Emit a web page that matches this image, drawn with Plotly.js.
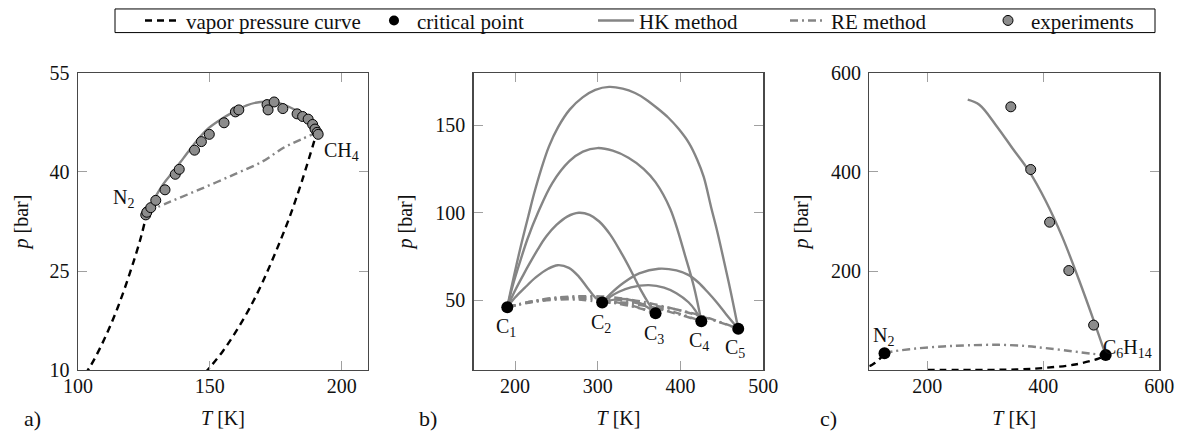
<!DOCTYPE html>
<html>
<head>
<meta charset="utf-8">
<script src="https://cdn.plot.ly/plotly-3.0.1.min.js"></script>
<style>html,body{margin:0;padding:0;background:#fff;}#chart{width:1184px;height:436px;}</style>
</head>
<body>
<div id="chart"></div>
<script>
// ---------- Panel a: N2 / CH4 ----------
const n2VapT = [100, 105, 110, 115, 120, 124, 126.2];
const n2VapP = [7.8, 10.8, 14.7, 19.4, 25.1, 30.3, 34.0];
const ch4VapT = [145, 150, 155, 160, 165, 170, 175, 180, 185, 190.6];
const ch4VapP = [8.2, 10.4, 12.9, 15.9, 19.3, 23.3, 27.9, 32.9, 38.7, 46.0];
const hkA_T = [126.2, 129.3, 132.4, 136.2, 140.0, 143.8, 148.9, 154, 159.0, 164, 169.2, 175.5, 181.9, 186.9, 190.6];
const hkA_P = [34.0, 36.2, 38.2, 40.1, 42.1, 44.1, 46.4, 47.9, 49.1, 50.1, 50.6, 50.5, 49.5, 48.1, 46.0];
const reA_T = [126.2, 135, 146.4, 159.1, 170, 178.1, 185, 190.6];
const reA_P = [34.0, 35.5, 37.4, 39.6, 41.6, 43.7, 45.0, 46.0];
const critA_T = [126.2, 190.6];
const critA_P = [34.0, 46.0];
const expA_T = [125.7, 126.1, 127.6, 129.5, 133.0, 136.9, 138.4, 144.2, 146.8, 149.8, 155.4, 159.7, 161.0, 171.7, 172.1, 174.4, 177.7, 183.1, 185.2, 187.3, 189.0, 189.9, 190.7, 191.1];
const expA_P = [33.5, 33.9, 34.6, 35.7, 37.3, 39.65, 40.4, 43.3, 44.6, 45.7, 47.45, 49.1, 49.4, 50.2, 49.4, 50.6, 49.6, 48.8, 48.4, 48.0, 47.2, 46.5, 46.0, 45.7];

// ---------- Panel b: C1..C5 ----------
const critB_T = [190.6, 305.3, 369.8, 425.1, 469.7];
const critB_P = [46.0, 48.7, 42.5, 38.0, 33.7];
const critB_names = ['C<sub>1</sub>', 'C<sub>2</sub>', 'C<sub>3</sub>', 'C<sub>4</sub>', 'C<sub>5</sub>'];
const hk12_T = [190.6, 200, 211.6, 225, 240, 251.6, 265, 277, 287.6, 297, 305.3];
const hk12_P = [46, 51.5, 57, 63, 68, 70, 68.5, 63.5, 57, 51.5, 48.7];
const hk13_T = [190.6, 200, 210, 217.6, 228, 237.6, 250, 263, 277, 290, 301.7, 315, 329.6, 341, 351.7, 361, 369.8];
const hk13_P = [46, 55.5, 64.5, 71, 79.5, 86.4, 93, 97.8, 100, 98.8, 95, 87.5, 76, 66, 56, 48.5, 42.5];
const hk14_T = [190.6, 197, 205.6, 215, 227.6, 245, 265.6, 282, 299.6, 318, 337, 355.6, 369.7, 387.7, 406.4, 416, 425.1];
const hk14_P = [46, 58, 71.4, 85, 100, 117, 129.5, 135, 137, 135.5, 131.5, 125, 117.5, 102, 74, 58, 38];
const hk15_T = [190.6, 195, 201.6, 208, 216, 223, 231.6, 241, 252, 266, 281.6, 297, 313.6, 330, 345, 357.7, 372, 385, 397.6, 410, 420, 428, 437, 444, 451.7, 461, 469.7];
const hk15_P = [46, 56, 70, 83, 98, 111, 125, 138, 149, 159, 166, 170.3, 172, 171, 168.5, 165, 159.8, 154.5, 148, 140, 130.5, 120.5, 103, 90, 74, 54, 33.7];
const hk23_T = [305.3, 320, 335, 350, 360, 369.8];
const hk23_P = [48.7, 50.3, 50.5, 48.5, 46, 42.5];
const hk24_T = [305.3, 315, 325.6, 340, 361.6, 380, 395, 409.6, 418, 425.1];
const hk24_P = [48.7, 52, 54.8, 57.3, 58.6, 57.2, 54, 48.8, 44, 38];
const hk25_T = [305.3, 315, 331.6, 350, 373.6, 395, 410, 421.6, 433, 443.6, 455, 469.7];
const hk25_P = [48.7, 53.5, 60.1, 65.3, 68, 67, 64.3, 60.1, 54.5, 48.8, 42, 33.7];
const re12_T = [190.6, 220, 250, 280, 305.3];
const re12_P = [46, 48.8, 50.3, 50.2, 48.7];
const re13_T = [190.6, 220, 250, 280, 310, 340, 369.8];
const re13_P = [46, 49, 50.8, 51, 49.8, 47, 42.5];
const re14_T = [190.6, 220, 250, 280, 310, 340, 370, 400, 425.1];
const re14_P = [46, 49.2, 51.2, 51.8, 51, 49, 45.5, 41.5, 38];
const re15_T = [190.6, 220, 250, 280, 310, 340, 370, 400, 430, 469.7];
const re15_P = [46, 49.3, 51.5, 52.3, 52, 50.3, 47.5, 44, 40, 33.7];
const re23_T = [305.3, 320, 340, 355, 369.8];
const re23_P = [48.7, 48.3, 46.5, 44.8, 42.5];
const re24_T = [305.3, 330, 360, 390, 425.1];
const re24_P = [48.7, 48.3, 46.5, 43.5, 38];
const re25_T = [305.3, 340, 380, 420, 469.7];
const re25_P = [48.7, 48.5, 46, 41.8, 33.7];

// ---------- Panel c: N2 / C6H14 ----------
const hexVapT = [200, 300, 358, 404, 455, 495, 507.6];
const hexVapP = [0, 0.3, 1.3, 4.6, 11.3, 23.2, 30.2];
const hkC_T = [269.7, 289.7, 318.3, 346.8, 375.4, 404, 432.5, 461.1, 489.7, 507.6];
const hkC_P = [546, 535.6, 494.5, 448, 401.8, 342, 269.5, 183.3, 90.8, 30.2];
const reC_T = [126.2, 141, 180, 227, 270, 324, 370, 404, 450, 484, 507.6];
const reC_P = [34, 37.7, 43.5, 47.7, 50.0, 51, 48.5, 44.3, 38, 33, 30.2];
const critC_T = [126.2, 507.6];
const critC_P = [34.0, 30.2];
const expC_T = [344, 378.3, 410.9, 444, 486.8];
const expC_P = [531.6, 405, 298.6, 201, 90.8];

// ---------- legend entries ----------
const legendNames = ['vapor pressure curve', 'critical point', 'HK method', 'RE method', 'experiments'];

// ---------- styles ----------
const FONT = 'Liberation Serif';
const GRAY = '#858585';
const vapLine = {color: '#000', width: 2.4, dash: '7px,5px', shape: 'spline'};
const hkLine = {color: GRAY, width: 2.4, shape: 'spline'};
const reLine = {color: GRAY, width: 2.4, dash: '8px,4px,2px,4px', shape: 'spline'};
const critMarker = {color: '#000', size: 12};
const expMarker = {color: '#8c8c8c', size: 10, line: {color: '#000', width: 1}};

function line(x, y, style, ax, leg) {
  const t = {x: x, y: y, type: 'scatter', mode: 'lines', line: style, xaxis: 'x' + ax, yaxis: 'y' + ax,
          showlegend: false, hoverinfo: 'skip'};
  if (leg !== undefined) { t.name = legendNames[leg]; t.showlegend = true; t.legend = leg ? 'legend' + (leg + 1) : 'legend'; }
  return t;
}
function pts(x, y, mk, ax, leg) {
  const t = {x: x, y: y, type: 'scatter', mode: 'markers', marker: mk, xaxis: 'x' + ax, yaxis: 'y' + ax,
          showlegend: false, cliponaxis: false, hoverinfo: 'skip'};
  if (leg !== undefined) { t.name = legendNames[leg]; t.showlegend = true; t.legend = 'legend' + (leg + 1); }
  return t;
}

const traces = [
  // panel a
  line(n2VapT, n2VapP, vapLine, '', 0),
  line(ch4VapT, ch4VapP, vapLine, ''),
  line(hkA_T, hkA_P, hkLine, ''),
  line(reA_T, reA_P, reLine, ''),
  pts(critA_T, critA_P, {color: '#000', size: 10}, '', 1),
  // panel b
  line(hk12_T, hk12_P, hkLine, '2', 2),
  line(hk13_T, hk13_P, hkLine, '2'),
  line(hk14_T, hk14_P, hkLine, '2'),
  line(hk15_T, hk15_P, hkLine, '2'),
  line(hk23_T, hk23_P, hkLine, '2'),
  line(hk24_T, hk24_P, hkLine, '2'),
  line(hk25_T, hk25_P, hkLine, '2'),
  line(re12_T, re12_P, reLine, '2', 3),
  line(re13_T, re13_P, reLine, '2'),
  line(re14_T, re14_P, reLine, '2'),
  line(re15_T, re15_P, reLine, '2'),
  line(re23_T, re23_P, reLine, '2'),
  line(re24_T, re24_P, reLine, '2'),
  line(re25_T, re25_P, reLine, '2'),
  pts(critB_T, critB_P, critMarker, '2'),
  // panel c
  line(n2VapT, n2VapP, vapLine, '3'),
  line(hexVapT, hexVapP, vapLine, '3'),
  line(hkC_T, hkC_P, hkLine, '3'),
  line(reC_T, reC_P, reLine, '3'),
  pts(critC_T, critC_P, critMarker, '3'),
  pts(expC_T, expC_P, expMarker, '3'),
  // experiments a (on top)
  pts(expA_T, expA_P, expMarker, '', 4)
];

function axis(extra) {
  return Object.assign({
    showline: true, mirror: 'ticks', linecolor: '#484848', linewidth: 1.4,
    ticks: 'inside', ticklen: 9, tickwidth: 1, tickcolor: '#a0a0a0',
    showgrid: false, zeroline: false, tickfont: {family: FONT, size: 20, color: '#111'}, ticklabelstandoff: 3,
    fixedrange: true
  }, extra);
}
const yDom = [1 - 369 / 436, 1 - 67 / 436];
const xt = () => ({text: '<i>T</i> [K]', font: {family: FONT, size: 20, color: '#111'}, standoff: 14});
const yt = (s) => ({text: '<i>p</i> [bar]', font: {family: FONT, size: 20, color: '#111'}, standoff: s});

const annotations = [];
function lab(text, x, y, ax, xanchor) {
  annotations.push({text: text, x: x, y: y, xref: 'x' + ax, yref: 'y' + ax, showarrow: false,
    xanchor: xanchor || 'center', yanchor: 'middle', font: {family: FONT, size: 20, color: '#111'}});
}
lab('N<sub>2</sub>', 117.3, 36.0, '');
lab('CH<sub>4</sub>', 192.5, 43.1, '', 'left');
const cOffs = [[-1, -11.8], [-1, -12.1], [-2, -12.1], [-3, -11.7], [-4, -11.1]];
critB_names.forEach((n, i) => {
  lab(n, critB_T[i] + cOffs[i][0], critB_P[i] + cOffs[i][1], '2');
});
lab('N<sub>2</sub>', 125.2, 67, '3');
lab('C<sub>6</sub>H<sub>14</sub>', 499, 44, '3', 'left');
[['a)', 32], ['b)', 428], ['c)', 828]].forEach(p => {
  annotations.push({text: p[0], x: p[1] / 1184, y: 1 - 418 / 436, xref: 'paper', yref: 'paper',
    showarrow: false, xanchor: 'center', yanchor: 'middle', font: {family: FONT, size: 22, color: '#111'}});
});

const legBase = {orientation: 'h', xanchor: 'left', y: 1 - 14 / 436, yanchor: 'middle',
  borderwidth: 0, bgcolor: 'rgba(0,0,0,0)', font: {family: FONT, size: 21, color: '#111'}, itemwidth: 36};
const legX = [140, 371, 593, 785, 985];

const layout = {
  width: 1184, height: 436,
  margin: {l: 0, r: 0, t: 0, b: 0},
  font: {family: FONT, size: 20, color: '#111'},
  paper_bgcolor: '#fff', plot_bgcolor: '#fff',
  showlegend: true,
  legend: Object.assign({}, legBase, {x: legX[0] / 1184}),
  legend2: Object.assign({}, legBase, {x: legX[1] / 1184}),
  legend3: Object.assign({}, legBase, {x: legX[2] / 1184}),
  legend4: Object.assign({}, legBase, {x: legX[3] / 1184}),
  legend5: Object.assign({}, legBase, {x: legX[4] / 1184}),
  shapes: [{type: 'rect', xref: 'paper', yref: 'paper', x0: 115 / 1184, x1: 1155 / 1184,
            y0: 1 - 26 / 436, y1: 1 - 2 / 436, line: {color: '#000', width: 1}, fillcolor: 'rgba(0,0,0,0)', layer: 'below'}],
  xaxis: axis({domain: [78 / 1184, 368 / 1184], range: [100, 210], tickvals: [100, 150, 200], anchor: 'y', title: xt(), ticklabelstandoff: -2}),
  yaxis: axis({domain: yDom, range: [10, 55], tickvals: [10, 25, 40, 55], anchor: 'x', title: yt(15)}),
  xaxis2: axis({domain: [473.7 / 1184, 763.3 / 1184], range: [150, 500], tickvals: [200, 300, 400, 500], anchor: 'y2', title: xt(), ticklabelstandoff: -2}),
  yaxis2: axis({domain: yDom, range: [10, 180], tickvals: [50, 100, 150], anchor: 'x2', title: yt(17)}),
  xaxis3: axis({domain: [869.3 / 1184, 1159.3 / 1184], range: [100, 600], tickvals: [200, 400, 600], anchor: 'y3', title: xt(), ticklabelstandoff: -2}),
  yaxis3: axis({domain: yDom, range: [0, 600], tickvals: [200, 400, 600], anchor: 'x3', title: yt(17)}),
  annotations: annotations
};

Plotly.newPlot('chart', traces, layout, {staticPlot: true, displayModeBar: false});
</script>
</body>
</html>
